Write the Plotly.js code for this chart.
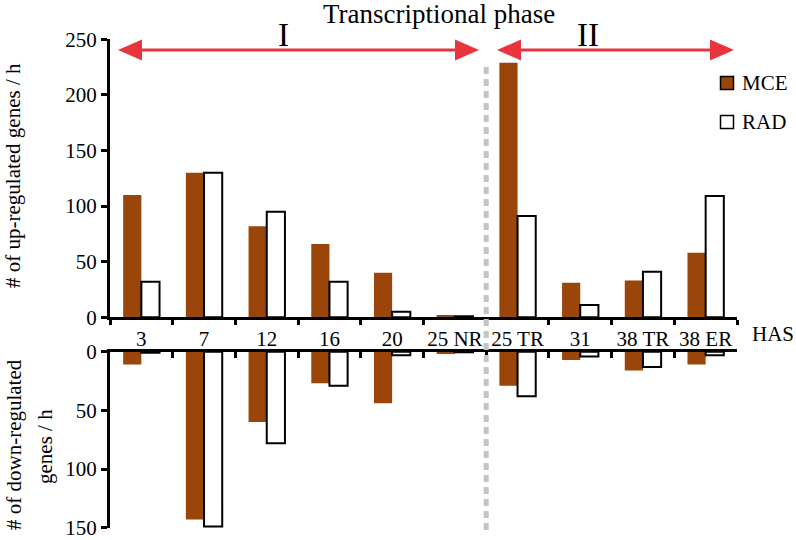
<!DOCTYPE html>
<html>
<head>
<meta charset="utf-8">
<script src="https://cdn.plot.ly/plotly-3.0.1.min.js"></script>
<style>html,body{margin:0;padding:0;background:#fff;}#chart{width:796px;height:540px;}</style>
</head>
<body>
<div id="chart"></div>
<script>
const categories = ["3", "7", "12", "16", "20", "25 NR", "25 TR", "31", "38 TR", "38 ER"];
const mceUp   = [110, 130, 82, 66, 40, 2, 229, 31, 33, 58];
const radUp   = [32, 130, 95, 32, 5, 1, 91, 11, 41, 109];
const mceDown = [11, 143, 60, 27, 44, 2, 29, 7, 16, 11];
const radDown = [1, 149, 78, 29, 3, 0.5, 38, 4, 13, 3];
const seriesNames = ["MCE", "RAD"];

const MCE_COLOR = "#9A4509";
const RED = "#E8353D";
const FONT = "Times New Roman, Liberation Serif, serif";

// layout helpers (pixel -> paper)
const L = 110, R = 59, T = 39, B = 10, W = 796, H = 540;
const pw = W - L - R, ph = H - T - B;
const px = x => (x - L) / pw;
const py = y => (H - B - y) / ph;

function arrowShapes(x1, x2, y) {
  const hl = 24, hh = 10.5;
  const shapes = [];
  shapes.push({type: "line", xref: "paper", yref: "paper",
    x0: px(x1 + hl - 2), x1: px(x2 - hl + 2), y0: py(y), y1: py(y),
    line: {color: RED, width: 3}});
  const tri = (tip, dir) => {
    const bx = tip + dir * hl;
    return "M " + px(tip) + " " + py(y) + " L " + px(bx) + " " + py(y - hh) +
           " L " + px(bx) + " " + py(y + hh) + " Z";
  };
  shapes.push({type: "path", xref: "paper", yref: "paper", path: tri(x1, 1),
    fillcolor: RED, line: {width: 0}});
  shapes.push({type: "path", xref: "paper", yref: "paper", path: tri(x2, -1),
    fillcolor: RED, line: {width: 0}});
  return shapes;
}

const traces = [
  {type: "bar", name: seriesNames[0], x: categories, y: mceUp, xaxis: "x", yaxis: "y",
   marker: {color: MCE_COLOR, line: {width: 0}}, showlegend: false},
  {type: "bar", name: seriesNames[1], x: categories, y: radUp, xaxis: "x", yaxis: "y",
   marker: {color: "#ffffff", line: {color: "#000", width: 2}}, showlegend: false},
  {type: "bar", name: seriesNames[0], x: categories, y: mceDown, xaxis: "x2", yaxis: "y2",
   marker: {color: MCE_COLOR, line: {width: 0}}, showlegend: false},
  {type: "bar", name: seriesNames[1], x: categories, y: radDown, xaxis: "x2", yaxis: "y2",
   marker: {color: "#ffffff", line: {color: "#000", width: 2}}, showlegend: false}
];

function yAxis(range, domain, anchor) {
  return {
    showgrid: false, zeroline: false, showline: true, linecolor: "#000", linewidth: 3,
    ticks: "outside", ticklen: 6, tickwidth: 3, tickcolor: "#000",
    tickfont: {family: FONT, size: 21, color: "#000"},
    tickvals: [0, 50, 100, 150, 200, 250], ticklabeloverflow: "allow",
    range: range, domain: domain, anchor: anchor, fixedrange: true
  };
}

const shapes = [].concat(
  arrowShapes(118, 479, 50),
  arrowShapes(497, 734, 50),
  [
    {type: "line", xref: "x", yref: "paper", x0: 5.5, x1: 5.5, y0: py(530), y1: py(62),
     line: {color: "#c4c4c4", width: 5, dash: "7px,5px"}},
    {type: "rect", xref: "paper", yref: "paper", x0: px(720.5), x1: px(733.5), y0: py(89.5), y1: py(76.5),
     fillcolor: MCE_COLOR, line: {color: "#000", width: 1.5}},
    {type: "rect", xref: "paper", yref: "paper", x0: px(720.5), x1: px(733.5), y0: py(128.5), y1: py(115.5),
     fillcolor: "#fff", line: {color: "#000", width: 1.5}}
  ]
);

const ann = (text, x, y, size, extra) => Object.assign({
  text: text, xref: "paper", yref: "paper", x: px(x), y: py(y),
  showarrow: false, font: {family: FONT, size: size, color: "#000"},
  xanchor: "center", yanchor: "middle"
}, extra || {});

const annotations = [
  ann("Transcriptional phase", 439, 14, 27),
  ann("I", 283, 35, 33),
  ann("II", 588, 35, 33),
  ann(seriesNames[0], 740, 83, 21, {xanchor: "left"}),
  ann(seriesNames[1], 740, 122, 21, {xanchor: "left"}),
  ann("HAS", 773, 334, 21),
  ann("# of up-regulated genes / h", 13, 175, 21, {textangle: -90}),
  ann("# of down-regulated", 14, 445, 21, {textangle: -90}),
  ann("genes / h", 45, 447, 21, {textangle: -90})
];

const layout = {
  width: W, height: H,
  margin: {l: L, r: R, t: T, b: B, pad: 0},
  paper_bgcolor: "#fff", plot_bgcolor: "#fff",
  font: {family: FONT, color: "#000"},
  barmode: "group", bargap: 0.42, bargroupgap: 0,
  showlegend: false,
  xaxis: {
    type: "category", categoryorder: "array", categoryarray: categories,
    range: [-0.5, 9.5], anchor: "y", domain: [0, 1],
    showgrid: false, zeroline: false, showline: true, linecolor: "#000", linewidth: 3,
    tickson: "boundaries", ticks: "outside", ticklen: 5, tickwidth: 3, tickcolor: "#000",
    tickangle: 0,
    tickfont: {family: FONT, size: 21, color: "#000"}, fixedrange: true
  },
  xaxis2: {
    type: "category", categoryorder: "array", categoryarray: categories,
    range: [-0.5, 9.5], anchor: "y2", side: "top", matches: "x",
    showgrid: false, zeroline: false, showline: true, linecolor: "#000", linewidth: 3,
    tickson: "boundaries", ticks: "inside", ticklen: 6, tickwidth: 3, tickcolor: "#000",
    showticklabels: false, fixedrange: true
  },
  yaxis: yAxis([0, 250.3], [py(317.3), py(39)], "x"),
  yaxis2: yAxis([150.3, 0], [py(528), py(351.7)], "x2"),
  shapes: shapes,
  annotations: annotations
};

Plotly.newPlot("chart", traces, layout, {displayModeBar: false, staticPlot: true});
</script>
</body>
</html>
